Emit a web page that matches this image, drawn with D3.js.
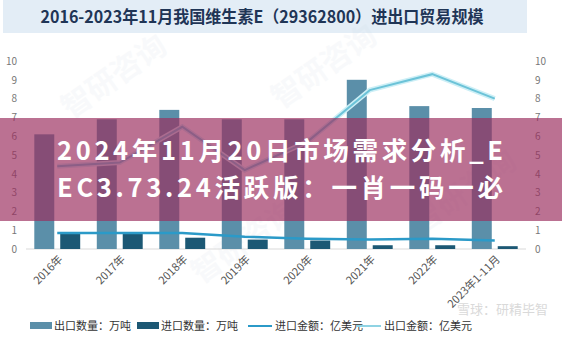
<!DOCTYPE html>
<html lang="zh">
<head>
<meta charset="UTF-8">
<title>维生素E进出口贸易规模</title>
<script src="https://d3js.org/d3.v7.min.js"></script>
<style>
  body { margin: 0; background: #fff; }
  text { font-family: "Noto Sans CJK SC", "Noto Sans", sans-serif; }
  .tick-label { font-size: 10px; fill: #777; }
  .x-label { font-size: 11px; fill: #555; }
  .legend text { font-size: 11px; fill: #333; }
</style>
</head>
<body>
<script>
const width = 562, height = 338;

// data
const categories = ["2016年", "2017年", "2018年", "2019年", "2020年", "2021年", "2022年", "2023年1-11月"];
const exportQty = [6.1, 6.9, 7.4, 6.9, 6.9, 9.0, 7.6, 7.5];     // 出口数量：万吨
const importQty = [0.8, 0.8, 0.6, 0.5, 0.45, 0.2, 0.2, 0.15];   // 进口数量：万吨
const importAmt = [0.85, 0.85, 0.85, 0.65, 0.55, 0.5, 0.55, 0.45]; // 进口金额：亿美元
const exportAmt = [4.4, 4.6, 6.5, 4.2, 5.7, 8.45, 9.3, 8.0];    // 出口金额：亿美元
const yTicks = [0, 1, 2, 3, 4, 5, 6, 7, 8, 9, 10];

const title = "2016-2023年11月我国维生素E（29362800）进出口贸易规模";
const bannerLines = ["2024年11月20日市场需求分析_E", "EC3.73.24活跃版：一肖一码一必"];

const svg = d3.select("body").append("svg")
  .attr("width", width)
  .attr("height", height);

// title band
svg.append("rect")
  .attr("x", 3).attr("y", 0)
  .attr("width", 524).attr("height", 33)
  .attr("fill", "#e3edf6");
svg.append("text")
  .attr("x", 262).attr("y", 23)
  .attr("text-anchor", "middle")
  .attr("font-size", 16.5)
  .attr("font-weight", "bold")
  .attr("fill", "#1f3556")
  .attr("textLength", 443)
  .attr("lengthAdjust", "spacingAndGlyphs")
  .text(title);

// faint watermarks
const marks = [[120, 85], [330, 75], [250, 250], [470, 200]];
svg.append("g").selectAll("text")
  .data(marks)
  .enter().append("text")
  .attr("transform", d => `translate(${d[0]},${d[1]}) rotate(-35)`)
  .attr("text-anchor", "middle")
  .attr("font-size", 30)
  .attr("font-weight", "bold")
  .attr("fill", "#c8d6e0")
  .attr("opacity", 0.12)
  .text("智研咨询");

// scales
const x = d3.scaleBand().domain(categories).range([26, 526]);
const xInner = d3.scaleBand().domain(["exp", "imp"])
  .range([0, x.bandwidth()]).paddingInner(0.23).paddingOuter(0.32);
const y = d3.scaleLinear().domain([0, 10]).range([249, 61]);

// axis labels left / right
const axisL = d3.axisLeft(y).tickValues(yTicks).tickSize(0).tickPadding(0);
const axisR = d3.axisRight(y).tickValues(yTicks).tickSize(0).tickPadding(0);
const gl = svg.append("g").attr("transform", "translate(17,0)").call(axisL);
const gr = svg.append("g").attr("transform", "translate(535,0)").call(axisR);
[gl, gr].forEach(g => {
  g.select(".domain").remove();
  g.selectAll("text").attr("class", "tick-label").attr("font-family", null).attr("font-size", null);
});

// baseline
svg.append("line")
  .attr("x1", 26).attr("x2", 526)
  .attr("y1", y(0)).attr("y2", y(0))
  .attr("stroke", "#d9d9d9");

// bars
svg.append("g").selectAll("rect")
  .data(exportQty)
  .enter().append("rect")
  .attr("x", (d, i) => x(categories[i]) + xInner("exp"))
  .attr("y", d => y(d))
  .attr("width", xInner.bandwidth())
  .attr("height", d => y(0) - y(d))
  .attr("fill", "#5b8fa9");

svg.append("g").selectAll("rect")
  .data(importQty)
  .enter().append("rect")
  .attr("x", (d, i) => x(categories[i]) + xInner("imp"))
  .attr("y", d => y(d))
  .attr("width", xInner.bandwidth())
  .attr("height", d => y(0) - y(d))
  .attr("fill", "#1c5874");

// lines
const line = d3.line()
  .x((d, i) => x(categories[i]) + x.bandwidth() / 2)
  .y(d => y(d));

svg.append("path")
  .datum(exportAmt)
  .attr("d", line)
  .attr("fill", "none")
  .attr("stroke", "#cdeff6")
  .attr("stroke-width", 5);
svg.append("path")
  .datum(exportAmt)
  .attr("d", line)
  .attr("fill", "none")
  .attr("stroke", "#6cc3d8")
  .attr("stroke-width", 2);

svg.append("path")
  .datum(importAmt)
  .attr("d", line)
  .attr("fill", "none")
  .attr("stroke", "#2b9ac8")
  .attr("stroke-width", 2.5);

// x labels
svg.append("g").selectAll("text")
  .data(categories)
  .enter().append("text")
  .attr("class", "x-label")
  .attr("text-anchor", "end")
  .attr("transform", d => `translate(${x(d) + x.bandwidth() / 2 + 6},${y(0) + 11}) rotate(-45)`)
  .text(d => d);

// legend
const legendItems = [
  { label: "出口数量：万吨", type: "rect", color: "#5b8fa9", x: 30 },
  { label: "进口数量：万吨", type: "rect", color: "#1c5874", x: 137 },
  { label: "进口金额：亿美元", type: "line", color: "#2b9ac8", x: 248 },
  { label: "出口金额：亿美元", type: "line", color: "#8fd3e3", x: 357 }
];
const lg = svg.append("g").attr("class", "legend")
  .selectAll("g")
  .data(legendItems)
  .enter().append("g")
  .attr("transform", d => `translate(${d.x},326)`);
lg.filter(d => d.type === "rect").append("rect")
  .attr("x", 0).attr("y", -4)
  .attr("width", 22).attr("height", 7)
  .attr("fill", d => d.color);
lg.filter(d => d.type === "line").append("line")
  .attr("x1", 0).attr("x2", 24)
  .attr("y1", 0).attr("y2", 0)
  .attr("stroke", d => d.color)
  .attr("stroke-width", 2);
lg.append("text")
  .attr("x", d => d.type === "rect" ? 24 : 27)
  .attr("y", 4)
  .text(d => d.label);

// bottom-right watermark
svg.append("text")
  .attr("x", 548).attr("y", 314)
  .attr("text-anchor", "end")
  .attr("font-size", 13)
  .attr("fill", "#bbb")
  .attr("opacity", 0.55)
  .text("雪球：研精毕智");

// overlay banner
svg.append("rect")
  .attr("x", 0).attr("y", 118)
  .attr("width", width).attr("height", 103)
  .attr("fill", "rgb(155,45,95)")
  .attr("opacity", 0.68);
svg.append("g").selectAll("text")
  .data(bannerLines)
  .enter().append("text")
  .attr("x", 57)
  .attr("y", (d, i) => 160 + i * 37)
  .attr("font-size", 25.5)
  .attr("font-weight", "bold")
  .attr("fill", "#fff")
  .attr("textLength", 446)
  .attr("lengthAdjust", "spacing")
  .text(d => d);
</script>
</body>
</html>
